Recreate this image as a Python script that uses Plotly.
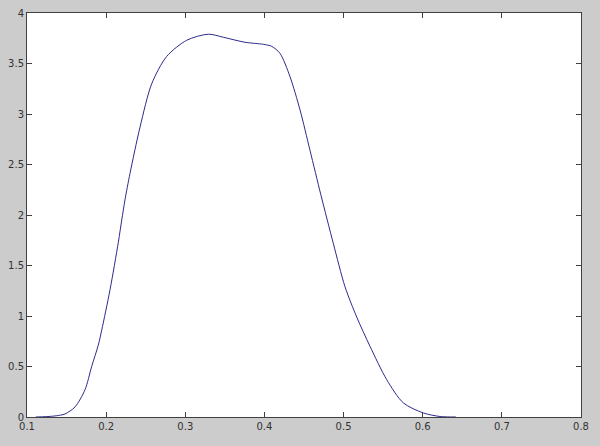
import plotly.graph_objects as go

x_vals = [0.111, 0.125, 0.137, 0.148, 0.1607, 0.1733, 0.1817, 0.190, 0.1944, 0.2049, 0.2154,
          0.2197, 0.2238, 0.2301, 0.2428, 0.2576, 0.2765, 0.3018, 0.3291, 0.348, 0.3755,
          0.3986, 0.4092, 0.4197, 0.4323, 0.445, 0.4576, 0.4713, 0.487, 0.5018, 0.5166,
          0.5334, 0.5545, 0.5755, 0.6008, 0.622, 0.642]
y_vals = [0.0, 0.004, 0.012, 0.03, 0.10, 0.27, 0.50, 0.71, 0.86, 1.26, 1.73,
          1.95, 2.15, 2.41, 2.87, 3.30, 3.57, 3.73, 3.79, 3.76, 3.71,
          3.69, 3.67, 3.60, 3.37, 3.04, 2.64, 2.20, 1.72, 1.29, 0.99,
          0.70, 0.37, 0.14, 0.04, 0.005, 0.0]

x_ticks = [0.1, 0.2, 0.3, 0.4, 0.5, 0.6, 0.7, 0.8]
x_tick_labels = ["0.1", "0.2", "0.3", "0.4", "0.5", "0.6", "0.7", "0.8"]
y_ticks = [0, 0.5, 1, 1.5, 2, 2.5, 3, 3.5, 4]
y_tick_labels = ["0", "0.5", "1", "1.5", "2", "2.5", "3", "3.5", "4"]

fig = go.Figure()
fig.add_trace(go.Scatter(x=x_vals, y=y_vals, mode="lines",
                         line=dict(color="#2b2b8c", width=1, shape="spline", smoothing=0.8),
                         showlegend=False, hoverinfo="skip"))

axis_common = dict(showgrid=False, zeroline=False, showline=True, linecolor="#404040",
                   linewidth=1, mirror="ticks", ticks="inside", ticklen=5, automargin=False,
                   tickcolor="#404040", tickfont=dict(family="DejaVu Sans", size=10, color="#333333"))

fig.update_layout(
    width=600, height=446,
    margin=dict(l=27, r=19, t=13, b=29),
    paper_bgcolor="#cccccc", plot_bgcolor="#ffffff",
    xaxis=dict(range=[0.1, 0.8], tickvals=x_ticks, ticktext=x_tick_labels, **axis_common),
    yaxis=dict(range=[0, 4], tickvals=y_ticks, ticktext=y_tick_labels, **axis_common),
)
fig.write_html("out.html", config={"displayModeBar": False},
               post_script="document.body.style.margin='0';document.body.style.background='#cccccc';document.body.style.overflow='hidden';")
